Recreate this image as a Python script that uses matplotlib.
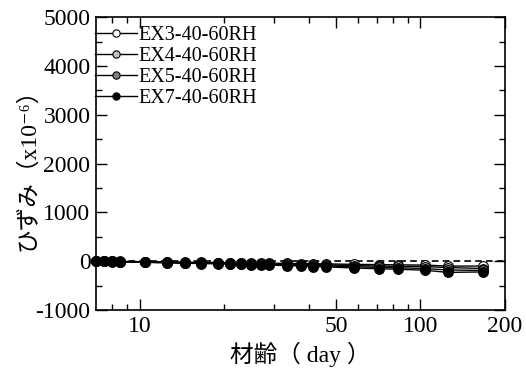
import matplotlib
matplotlib.use('Agg')
import matplotlib.pyplot as plt
from matplotlib.ticker import FixedLocator, FixedFormatter, MultipleLocator

plt.rcParams['font.family'] = ['Liberation Serif', 'Noto Sans CJK JP', 'DejaVu Sans']
plt.rcParams['axes.unicode_minus'] = False

ages = [7, 7.5, 8, 8.5, 10.5, 12.5, 14.5, 16.5, 19, 21, 23, 25, 27, 29,
        33.5, 37.5, 41.5, 46, 58, 71, 83, 104, 125, 167]
ex3 = [0, 0, -2, -5, -10, -15, -20, -25, -28, -30, -33, -35, -38, -40,
       -45, -50, -52, -55, -65, -70, -75, -80, -100, -100]
ex4 = [0, -2, -5, -8, -15, -22, -28, -32, -36, -40, -44, -48, -52, -55,
       -60, -68, -72, -75, -90, -100, -105, -110, -130, -150]
ex5 = [0, -3, -6, -10, -20, -28, -35, -40, -45, -50, -55, -60, -63, -67,
       -75, -85, -90, -95, -115, -125, -135, -150, -180, -190]
ex7 = [0, -5, -8, -12, -25, -35, -42, -48, -55, -60, -65, -70, -75, -80,
       -90, -100, -110, -115, -140, -155, -165, -185, -230, -220]
names = ['EX3-40-60RH', 'EX4-40-60RH', 'EX5-40-60RH', 'EX7-40-60RH']
fills = ['white', '#c0c0c0', '#808080', 'black']

fig = plt.figure(figsize=(5.26, 3.69), dpi=100)
ax = fig.add_axes([0.1825, 0.160, 0.7775, 0.793])

ax.axhline(0, color='black', lw=1.2, ls=(0, (4, 2.5)), zorder=1)
for ys, nm, fc in zip([ex3, ex4, ex5, ex7], names, fills):
    ax.plot(ages, ys, '-o', color='black', lw=1, mfc=fc, mec='black',
            ms=7, mew=0.8, label=nm, clip_on=False, zorder=3)

ax.set_xscale('log')
ax.set_xlim(7, 200)
ax.set_ylim(-1000, 5000)
ax.xaxis.set_major_locator(FixedLocator([10, 50, 100, 200]))
ax.xaxis.set_major_formatter(FixedFormatter(['10', '50', '100', '200']))
ax.xaxis.set_minor_locator(FixedLocator([8, 9, 20, 30, 40, 60, 70, 80, 90]))
ax.xaxis.set_minor_formatter(FixedFormatter([]))
ax.yaxis.set_major_locator(MultipleLocator(1000))
ax.yaxis.set_minor_locator(MultipleLocator(500))
ax.tick_params(which='both', direction='in', top=True, right=True,
               labelsize=17, width=1)
ax.tick_params(which='major', length=8, pad=4)
ax.tick_params(which='minor', length=4)
for s in ax.spines.values():
    s.set_linewidth(1.2)

ax.set_xlabel('材齢（ day ）', fontsize=17, labelpad=4)
ax.set_ylabel('ひずみ（x10⁻⁶）', fontsize=17, labelpad=-3)

ax.legend(loc='upper left', bbox_to_anchor=(-0.003, 0.972), frameon=False,
          fontsize=14.5, handlelength=2.1, handletextpad=0.05,
          labelspacing=0.1, borderaxespad=0, borderpad=0, markerscale=0.75)

fig.savefig('out.png', dpi=100)
